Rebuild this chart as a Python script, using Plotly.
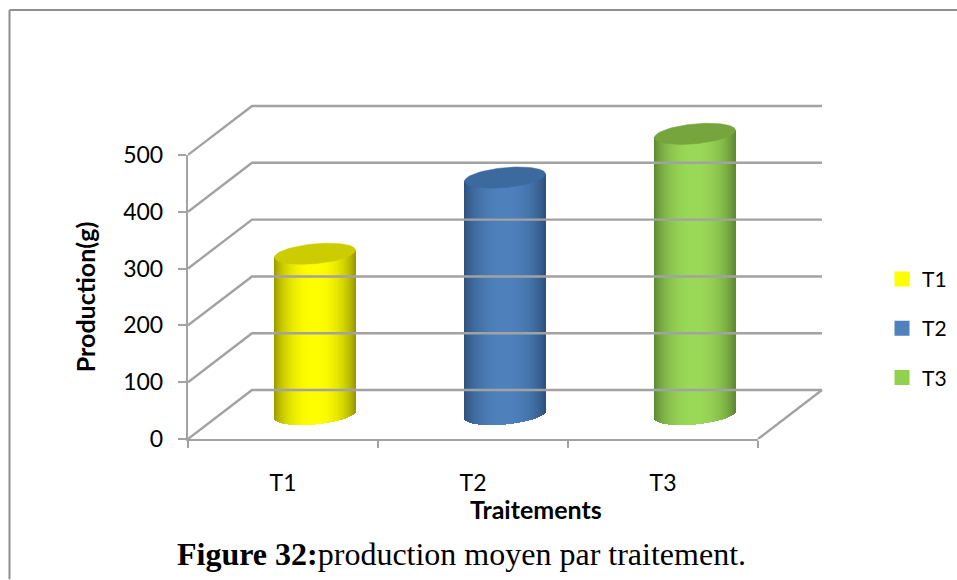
import numpy as np
import plotly.graph_objects as go

# ---- data ----
categories = ["T1", "T2", "T3"]
production = [283, 417, 494]
y_ticks = [0, 100, 200, 300, 400, 500]

# ---- styles ----
edge_colors = [(150, 150, 0), (44, 80, 122), (92, 134, 48)]
mid_colors = [(255, 255, 0), (79, 129, 189), (155, 217, 88)]
top_colors = ["#CCCC00", "#3C6A9E", "#76A53E"]
legend_colors = ["#FFFF00", "#4F81BD", "#92D050"]
GRID = "#A2A2A2"
FONT = "Lato"

W, H = 957, 580
L, R, T, B = 188, 127, 95, 140.5     # drawing area, large enough for the back wall
AXIS_W, AXIS_H = 570, 284.5          # front plane of the chart
PW, PH = W - L - R, H - T - B
px_x = AXIS_W / 3                    # pixels per category
px_y = AXIS_H / 500                  # pixels per unit


def paper_x(px):
    return (px - L) / PW


def paper_y(px):
    return (H - B - px) / PH


# pseudo-3D projection constants
depth_x = 64 / px_x
depth_y = 49 / px_y
a = 40.5 / px_x                      # cylinder half width
b = 10 / px_y                        # ellipse half height
tilt = 3.6 / px_y
x_lo, x_hi = 0.5, 3.5

fig = go.Figure()

# walls and floor
line = dict(color=GRID, width=2.4)
for v in y_ticks:
    fig.add_trace(go.Scatter(
        x=[x_lo, x_lo + depth_x, x_hi + depth_x],
        y=[v, v + depth_y, v + depth_y],
        mode="lines", line=line, showlegend=False, hoverinfo="skip"))
fig.add_trace(go.Scatter(
    x=[x_hi, x_hi + depth_x], y=[0, depth_y],
    mode="lines", line=line, showlegend=False, hoverinfo="skip"))

# cylinder bodies, drawn as narrow shaded bars
N = 81
us = (np.arange(N) + 0.5) / N * 2 - 1
strip = 2 * a / N
cx = np.arange(1, 4) + depth_x / 2
vals = np.array(production, dtype=float)
for u in us:
    shade = np.clip(1 - np.abs(u) ** 2.2, 0, 1) ** 0.8
    cols = []
    for e, m in zip(edge_colors, mid_colors):
        c = [int(e[k] + (m[k] - e[k]) * shade) for k in range(3)]
        cols.append(f"rgb({c[0]},{c[1]},{c[2]})")
    low = depth_y / 2 + tilt * u - b * np.sqrt(1 - u ** 2)
    fig.add_trace(go.Bar(
        x=cx + u * a, y=vals + depth_y / 2 + tilt * u - low, base=[low] * 3,
        width=strip * 1.4, marker=dict(color=cols, line=dict(width=0)),
        showlegend=False, hoverinfo="skip"))

# cylinder tops
t = np.linspace(0, 2 * np.pi, 90)
for i, v in enumerate(production):
    fig.add_trace(go.Scatter(
        x=cx[i] + a * np.cos(t),
        y=v + depth_y / 2 + tilt * np.cos(t) + b * np.sin(t),
        mode="lines", fill="toself", fillcolor=top_colors[i],
        line=dict(width=0.5, color=top_colors[i]),
        showlegend=False, hoverinfo="skip"))

# legend entries, on the visible front-plane axes
for name, col in zip(categories, legend_colors):
    fig.add_trace(go.Scatter(
        x=[None], y=[None], xaxis="x2", yaxis="y2",
        mode="markers", name=name, legendgroup=name,
        marker=dict(symbol="square", size=15, color=col)))

fig.update_layout(
    width=W, height=H, autosize=False,
    margin=dict(l=L, r=R, t=T, b=B, pad=0, autoexpand=False),
    paper_bgcolor="white", plot_bgcolor="rgba(0,0,0,0)",
    barmode="overlay", bargap=0,
    font=dict(family=FONT, color="#000000"),
    legend=dict(x=paper_x(882), y=paper_y(259), xanchor="left", yanchor="top",
                font=dict(size=21), tracegroupgap=19, bgcolor="rgba(0,0,0,0)",
                itemwidth=30),
    xaxis=dict(range=[x_lo, x_lo + PW / px_x], visible=False),
    yaxis=dict(range=[0, PH / px_y], visible=False),
    xaxis2=dict(
        domain=[0, AXIS_W / PW], anchor="y2",
        range=[x_lo, x_hi], tickmode="array", tickvals=[1, 2, 3], ticktext=categories,
        ticks="", showgrid=False, zeroline=False, showline=True,
        linecolor=GRID, linewidth=2.4, tickfont=dict(size=23, family=FONT),
        ticklabelstandoff=22,
        minor=dict(tickmode="array", tickvals=[0.5, 1.5, 2.5, 3.5], ticks="outside",
                   ticklen=7, tickwidth=2.4, tickcolor=GRID, showgrid=False)),
    yaxis2=dict(
        domain=[0, AXIS_H / PH], anchor="x2",
        range=[0, 500], tickmode="array", tickvals=y_ticks, ticks="outside",
        ticklen=8, tickwidth=2.4, tickcolor=GRID, showgrid=False, zeroline=False,
        showline=True, linecolor=GRID, linewidth=2.4, tickfont=dict(size=23, family=FONT),
        ticklabelstandoff=10,
        title=dict(text="<b>Production(g)</b>", font=dict(size=25, family=FONT), standoff=20)),
    shapes=[
        dict(type="line", xref="paper", yref="paper",
             x0=paper_x(9.5), x1=paper_x(9.5), y0=paper_y(10), y1=paper_y(H),
             line=dict(color="#8E8E8E", width=2)),
        dict(type="line", xref="paper", yref="paper",
             x0=paper_x(9.5), x1=paper_x(W), y0=paper_y(10), y1=paper_y(10),
             line=dict(color="#8E8E8E", width=2)),
    ],
    annotations=[
        dict(text="<b>Traitements</b>", xref="paper", yref="paper",
             x=paper_x(536), y=paper_y(510),
             showarrow=False, font=dict(size=25, family=FONT), xanchor="center", yanchor="middle"),
        dict(text="<b>Figure 32:</b>production moyen par traitement.", xref="paper", yref="paper",
             x=paper_x(461), y=paper_y(555),
             showarrow=False, font=dict(size=32, family="Liberation Serif"),
             xanchor="center", yanchor="middle"),
    ],
)

fig.write_html("out.html", config={"displayModeBar": False},
               post_script="document.body.style.margin='0';")
